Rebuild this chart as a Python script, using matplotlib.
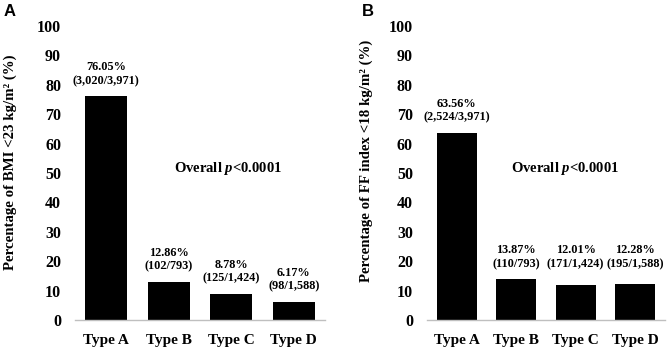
import matplotlib.pyplot as plt
import numpy as np

# data
types = ['Type A', 'Type B', 'Type C', 'Type D']
bmi_pct = [76.05, 12.86, 8.78, 6.17]
bmi_counts = ['(3,020/3,971)', '(102/793)', '(125/1,424)', '(98/1,588)']
ff_pct = [63.56, 13.87, 12.01, 12.28]
ff_counts = ['(2,524/3,971)', '(110/793)', '(171/1,424)', '(195/1,588)']
yticks = [0, 10, 20, 30, 40, 50, 60, 70, 80, 90, 100]

plt.rcParams['font.family'] = ['Liberation Serif', 'DejaVu Serif']
plt.rcParams['font.weight'] = 'bold'
plt.rcParams['mathtext.fontset'] = 'custom'
plt.rcParams['mathtext.it'] = 'Liberation Serif:italic:bold'
plt.rcParams['mathtext.rm'] = 'Liberation Serif:bold'

fig = plt.figure(figsize=(6.69, 3.5), dpi=100)
ax1 = fig.add_axes([0.112, 0.0857, 0.374, 0.84])
ax2 = fig.add_axes([0.638, 0.0857, 0.356, 0.84])


def draw_panel(ax, vals, counts, ylabel, label_y, ptext_x):
    x = np.arange(len(vals))
    ax.bar(x, vals, width=0.67, color='black')
    for i in range(len(vals)):
        ax.text(x[i], label_y[i] + 3.2, counts[i], ha='center', va='bottom',
                fontsize=8.8, fontweight='bold')
        ax.text(x[i], label_y[i] + 7.9, '%.2f%%' % vals[i], ha='center', va='bottom',
                fontsize=8.8, fontweight='bold')
    ax.set_xlim(-0.5, 3.5)
    ax.set_ylim(0, 100)
    ax.set_yticks(yticks)
    ax.set_yticklabels([str(t) for t in yticks], fontsize=11.5, fontweight='bold')
    ax.set_xticks(x)
    ax.set_xticklabels(types, fontsize=11, fontweight='bold')
    ax.tick_params(length=0)
    ax.tick_params(axis='y', pad=10)
    ax.tick_params(axis='x', pad=10)
    for s in ['top', 'right', 'left']:
        ax.spines[s].set_visible(False)
    ax.spines['bottom'].set_color('#bfbfbf')
    ax.spines['bottom'].set_linewidth(1)
    ax.set_ylabel(ylabel, fontsize=10.7, fontweight='bold')
    ax.text(ptext_x, 51.7, r'Overall $\mathit{p}$<0.0001', ha='center', va='center',
            fontsize=10.5, fontweight='bold')


draw_panel(ax1, bmi_pct, bmi_counts, 'Percentage of BMI <23 kg/m² (%)',
           bmi_pct, 1.95)
# right panel: labels of types B-D sit on one common line
ff_label_y = [ff_pct[0]] + [max(ff_pct[1:])] * 3
draw_panel(ax2, ff_pct, ff_counts, 'Percentage of FF index <18 kg/m² (%)',
           ff_label_y, 1.82)
ax1.yaxis.set_label_coords(-0.232, 0.537)
ax2.yaxis.set_label_coords(-0.227, 0.54)

fig.text(0.005, 0.99, 'A', ha='left', va='top', fontsize=12, fontweight='bold',
         family='Liberation Sans')
fig.text(0.541, 0.99, 'B', ha='left', va='top', fontsize=12, fontweight='bold',
         family='Liberation Sans')

fig.savefig('out.png', dpi=100)
